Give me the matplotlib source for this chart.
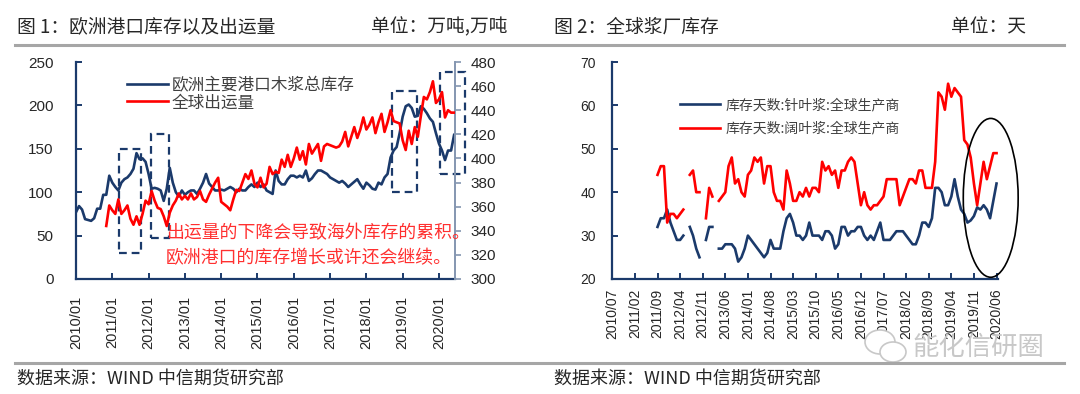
import numpy as np
import matplotlib
matplotlib.use("Agg")
import matplotlib.pyplot as plt
from matplotlib.patches import Rectangle, Ellipse
from matplotlib.lines import Line2D

plt.rcParams['font.family'] = ['Noto Sans CJK SC', 'DejaVu Sans']

# ---------------- Data: chart 1 (monthly from 2010/01) ----------------
eu_stock = [77, 84, 80, 69, 68, 67, 70, 81, 81, 97, 97, 119, 111, 106, 102, 111, 115, 117, 121, 127,
            145, 138, 139, 135, 121, 104, 105, 104, 102, 90, 104, 128, 111, 100, 95, 102, 97, 100, 102, 102,
            98, 104, 111, 121, 110, 106, 102, 102, 103, 102, 104, 106, 104, 100, 104, 102, 102, 106, 109, 106,
            111, 106, 109, 102, 100, 98, 125, 113, 109, 109, 115, 119, 119, 117, 119, 117, 125, 113, 116, 121,
            125, 125, 123, 121, 117, 115, 113, 111, 113, 110, 106, 109, 112, 115, 109, 104, 111, 108, 104, 103,
            111, 109, 117, 121, 140, 148, 152, 168, 187, 199, 201, 197, 187, 188, 199, 196, 191, 185, 181, 168,
            156, 148, 137, 148, 148, 166]
shipments = [None] * 10 + [
    344, 361, 357, 354, 366, 354, 357, 361, 350, 345,
    352, 345, 354, 365, 362, 373, 365, 359, 358, 352,
    344, 355, 361, 365, 371, 366, 369, 366, 371, 366,
    368, 373, 366, 364, 370, 375, 380, 384, 364, 362,
    360, 357, 366, 374, 373, 380, 387, 383, 390, 379,
    376, 384, 376, 379, 393, 387, 389, 388, 399, 393,
    403, 393, 400, 409, 399, 406, 395, 412, 404, 408,
    412, 398, 410, 412, 411, 410, 409, 410, 414, 422,
    410, 418, 426, 417, 424, 434, 424, 428, 434, 421,
    430, 437, 422, 430, 440, 431, 430, 429, 415, 407,
    423, 412, 426, 418, 435, 451, 449, 455, 464, 446,
    449, 455, 434, 440, 438, 438]
x1_labels = ['2010/01', '2011/01', '2012/01', '2013/01', '2014/01', '2015/01',
             '2016/01', '2017/01', '2018/01', '2019/01', '2020/01']
legend1 = ['欧洲主要港口木浆总库存', '全球出运量']
# highlight boxes: (start month, end month, low, high) on left axis
boxes = [(14.2, 21.4, 30, 150), (24.9, 30.9, 47, 167), (104.5, 112.8, 100, 217), (120.4, 128.7, 121, 238)]

# ---------------- Data: chart 2 (monthly from 2010/07) ----------------
softwood = [None] * 14 + [
    32, 34, 34, 36, 33, 31, 29, 29, 30, None,
    32, 30, 27, 25, None, 29, 32, 32, None, 27,
    27, 28, 28, 28, 27, 24, 25, 27, 30, 29,
    28, 27, 26, 25, 26, 29, 27, 27, 27, 31,
    34, 35, 33, 30, 30, 29, 30, 33, 30, 30,
    30, 29, 31, 31, 30, 27, 28, 32, 32, 30,
    31, 31, 32, 32, 30, 29, 30, 29, 31, 33,
    29, 29, 29, 30, 31, 31, 31, 30, 29, 28,
    28, 30, 33, 33, 32, 34, 41, 41, 40, 37,
    37, 39, 43, 39, 36, 35, 33, 33.5, 34.5, 36.5,
    36, 37, 36, 34, 38, 42]
hardwood = [None] * 14 + [
    44, 46, 46, 33, 35, 35, 34, 35, 36, None,
    44, 45, 40, 40, None, 34, 41, 39, None, 38,
    39, 40, 46, 48, 42, 43, 40, 39, 44, 45,
    48, 47, 48, 42, 46, 46, 40, 38, 38, 36,
    45, 42, 38, 38, 40, 39, 41, 39, 41, 41,
    40, 47, 45, 46, 44, 45, 41, 45, 45, 47,
    48, 47, 42, 37, 40, 37, 36, 37, 37, 38,
    39, 43, 43, 43, 43, 37, 39, 41, 43, 43,
    42, 45, 45, 41, 41, 41, 47, 63, 62, 59,
    65, 62, 64, 63, 62, 52, 51, 48, 42, 37,
    42, 47, 43, 46, 49, 49]
x2_labels = ['2010/07', '2011/02', '2011/09', '2012/04', '2012/11', '2013/06', '2014/01', '2014/08',
             '2015/03', '2015/10', '2016/05', '2016/12', '2017/07', '2018/02', '2018/09', '2019/04',
             '2019/11', '2020/06']
legend2 = ['库存天数:针叶浆:全球生产商', '库存天数:阔叶浆:全球生产商']
circle = (117.2, 38.7, 17.0, 36.6)  # centre month, centre value, width, height

NAVY = '#1B3A6B'
RED = '#FF0000'
TXT = '#262626'
W, H = 1080, 394

def arr(v):
    return np.array([np.nan if a is None else a for a in v], dtype=float)

fig = plt.figure(figsize=(W / 100, H / 100), dpi=100)
fig.patch.set_facecolor('white')

def fx(px):
    return px / W

def fy(py):
    return 1 - py / H

# ---------------- header / footer ----------------
fig.text(fx(17), fy(27), '图 1：欧洲港口库存以及出运量', fontsize=13.5, color=TXT, va='center', ha='left', fontweight='medium')
fig.text(fx(508), fy(27), '单位：万吨,万吨', fontsize=13.5, color=TXT, va='center', ha='right', fontweight='medium')
fig.text(fx(554), fy(27), '图 2：全球浆厂库存', fontsize=13.5, color=TXT, va='center', ha='left', fontweight='medium')
fig.text(fx(1026), fy(27), '单位：天', fontsize=13.5, color=TXT, va='center', ha='right', fontweight='medium')
fig.add_artist(Line2D([fx(15), fx(1064)], [fy(44.5), fy(44.5)], color='#A6A6A6', lw=2.2))
fig.add_artist(Line2D([fx(15), fx(1064)], [fy(363), fy(363)], color='#A6A6A6', lw=2.2))
fig.text(fx(17), fy(379), '数据来源：WIND 中信期货研究部', fontsize=13, color=TXT, va='center', ha='left', fontweight='medium')
fig.text(fx(554), fy(379), '数据来源：WIND 中信期货研究部', fontsize=13, color=TXT, va='center', ha='left', fontweight='medium')

# watermark
fig.text(fx(912), fy(347), '能化信研圈', fontsize=19, color='#C8C8C8', va='center', ha='left')
fig.add_artist(Ellipse((fx(880), fy(342)), fx(30), 24 / H, facecolor='white', edgecolor='#C8C8C8', lw=1.2))
fig.add_artist(Ellipse((fx(893), fy(352)), fx(26), 20 / H, facecolor='white', edgecolor='#C8C8C8', lw=1.2))

# ---------------- chart 1 ----------------
ax1 = fig.add_axes([fx(76), fy(279), fx(455) - fx(76), fy(62) - fy(279)])
ax2 = ax1.twinx()
m1 = np.arange(len(eu_stock))
ax1.plot(m1, arr(eu_stock), color=NAVY, lw=1.9, zorder=3)
ax2.plot(np.arange(len(shipments)), arr(shipments), color=RED, lw=1.9, zorder=3)
ax1.set_xlim(0, 125.3)
ax1.set_ylim(0, 250)
ax2.set_ylim(300, 480)
ax1.set_yticks(np.arange(0, 251, 50))
ax2.set_yticks(np.arange(300, 481, 20))
ax1.set_xticks(np.arange(0, 121, 12))
ax1.set_xticklabels(x1_labels, rotation=90)
for a in (ax1, ax2):
    a.spines['top'].set_visible(False)
    a.set_facecolor('none')
ax1.spines['left'].set_color(NAVY)
ax1.spines['bottom'].set_color(NAVY)
ax1.spines['left'].set_linewidth(1.6)
ax1.spines['bottom'].set_linewidth(1.6)
ax1.spines['right'].set_visible(False)
ax2.spines['left'].set_visible(False)
ax2.spines['bottom'].set_visible(False)
ax2.spines['right'].set_color('#8496B0')
ax2.spines['right'].set_linewidth(1.4)
ax1.tick_params(axis='y', direction='in', length=4, color=NAVY, width=1.4, labelsize=11, labelcolor=TXT, pad=16)
ax1.tick_params(axis='x', direction='in', length=4, color=NAVY, width=1.4, labelsize=10.5, labelcolor=TXT, pad=12)
ax2.tick_params(axis='y', direction='out', length=4, color='#8496B0', width=1.2, labelsize=11, labelcolor=TXT, pad=7)
for lab in ax1.get_xticklabels() + ax1.get_yticklabels() + ax2.get_yticklabels():
    lab.set_family(['Liberation Sans', 'DejaVu Sans'])

for (x0, x1, y0, y1) in boxes:
    ax1.add_patch(Rectangle((x0, y0), x1 - x0, y1 - y0, fill=False, edgecolor=NAVY, lw=1.6,
                            linestyle=(0, (3.5, 2.2)), clip_on=False, zorder=4))

h1 = [Line2D([], [], color=NAVY, lw=1.9), Line2D([], [], color=RED, lw=1.9)]
fig.legend(h1, legend1, loc='upper left', bbox_to_anchor=(fx(127), fy(77)), frameon=False,
           fontsize=12, handlelength=2.45, handletextpad=0.25, labelspacing=0.02, borderpad=0,
           borderaxespad=0, labelcolor='#404040')

fig.text(fx(166), fy(233), '出运量的下降会导致海外库存的累积。', fontsize=12.9, color='#FF3030',
         va='center', ha='left', zorder=10)
fig.text(fx(166), fy(258.5), '欧洲港口的库存增长或许还会继续。', fontsize=12.9, color='#FF3030',
         va='center', ha='left', zorder=10)

# ---------------- chart 2 ----------------
ax3 = fig.add_axes([fx(612.3), fy(279), fx(997.5) - fx(612.3), fy(62) - fy(279)])
m2 = np.arange(len(softwood))
ax3.plot(m2, arr(softwood), color=NAVY, lw=1.9, zorder=3)
ax3.plot(np.arange(len(hardwood)), arr(hardwood), color=RED, lw=1.9, zorder=3)
ax3.set_xlim(0, 119.3)
ax3.set_ylim(20, 70)
ax3.set_yticks(np.arange(20, 71, 10))
ax3.set_xticks(np.arange(0, 120, 7))
ax3.set_xticklabels(x2_labels, rotation=90)
ax3.spines['top'].set_visible(False)
ax3.spines['right'].set_visible(False)
ax3.spines['left'].set_color(NAVY)
ax3.spines['bottom'].set_color(NAVY)
ax3.spines['left'].set_linewidth(1.6)
ax3.spines['bottom'].set_linewidth(1.6)
ax3.tick_params(axis='y', direction='in', length=4, color=NAVY, width=1.4, labelsize=10, labelcolor=TXT, pad=12)
ax3.tick_params(axis='x', direction='in', length=4, color=NAVY, width=1.4, labelsize=10, labelcolor=TXT, pad=7)
for lab in ax3.get_xticklabels() + ax3.get_yticklabels():
    lab.set_family(['Liberation Sans', 'DejaVu Sans'])

cx, cy, cw, ch = circle
ax3.add_patch(Ellipse((cx, cy), cw, ch, fill=False, edgecolor='black', lw=1.2, clip_on=False, zorder=5))

h2 = [Line2D([], [], color=NAVY, lw=1.9), Line2D([], [], color=RED, lw=1.9)]
fig.legend(h2, legend2, loc='upper left', bbox_to_anchor=(fx(680), fy(98)), frameon=False,
           fontsize=10, handlelength=2.9, handletextpad=0.4, labelspacing=0.7, borderpad=0,
           borderaxespad=0, labelcolor='#404040')

fig.savefig('out.png', dpi=100, facecolor='white')
